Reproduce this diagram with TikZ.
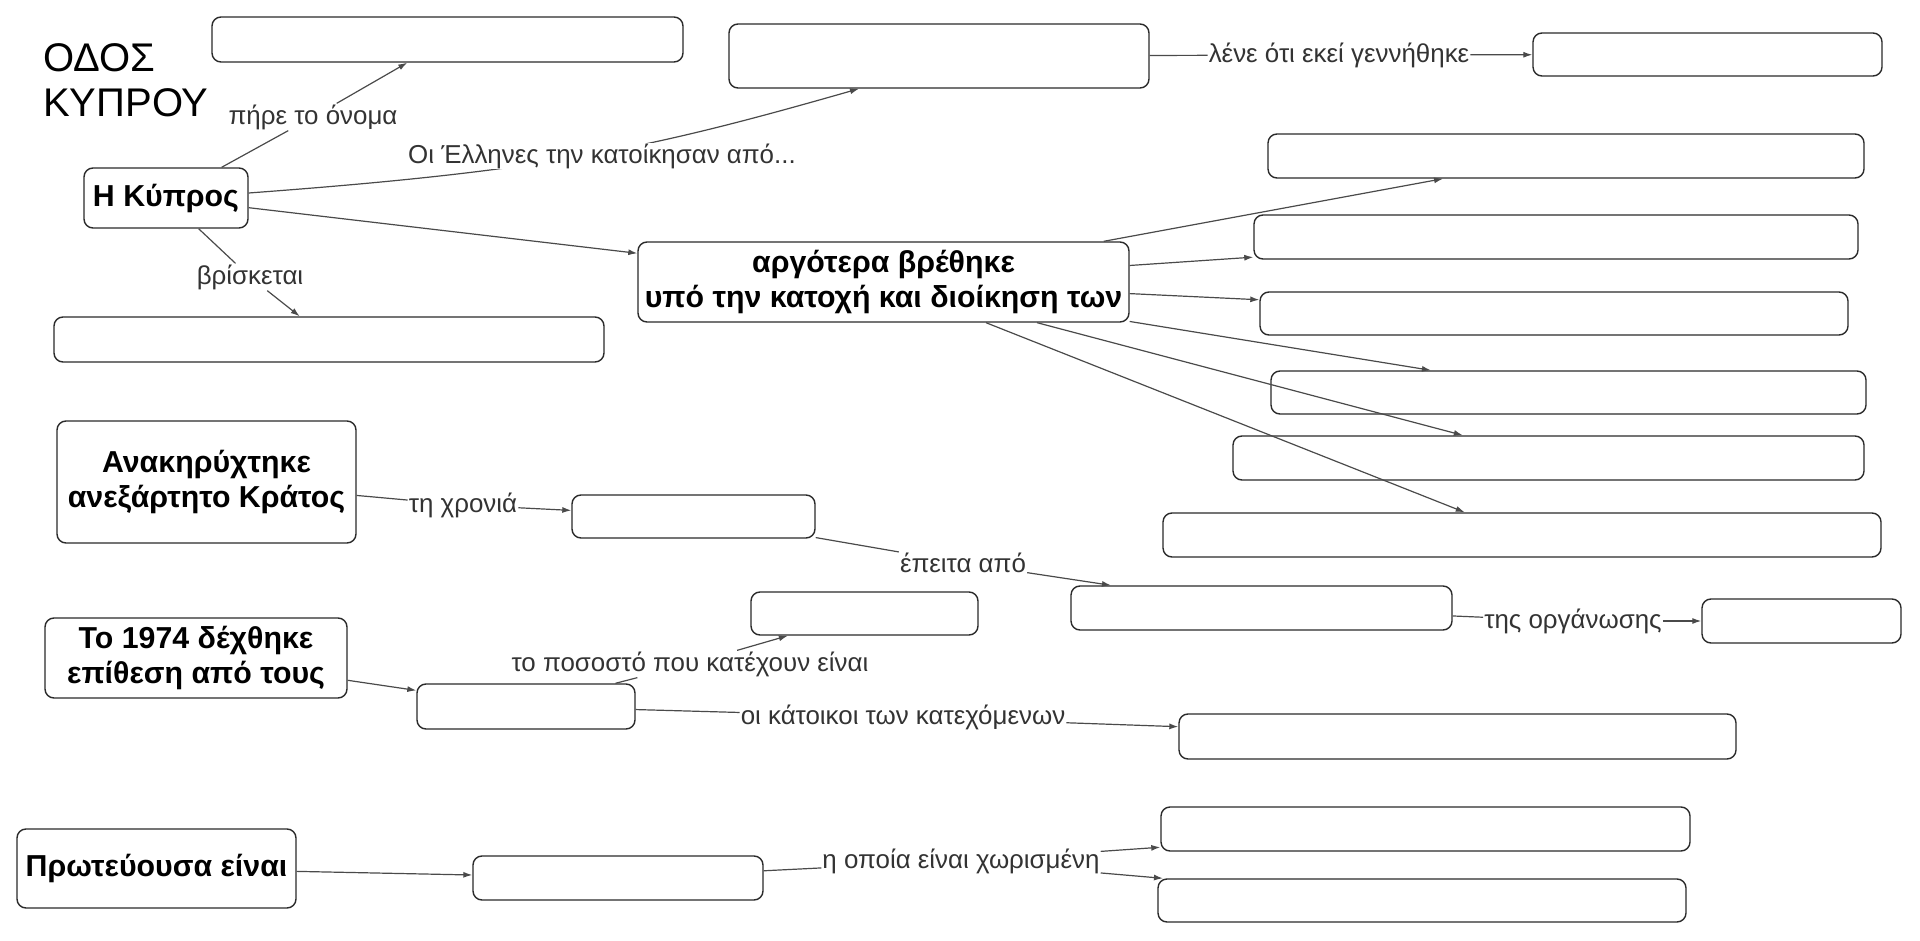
\documentclass[tikz,border=0pt]{standalone}
\usepackage{fontspec}
\setmainfont{Liberation Sans}
\usetikzlibrary{arrows.meta}
\definecolor{linec}{HTML}{4A4A4A}
\definecolor{boxc}{HTML}{2B2B2B}
\definecolor{labc}{HTML}{333333}
\begin{document}
\begin{tikzpicture}[x=1pt,y=-1pt,
  box/.style 2 args={draw=boxc, line width=1.4pt, rounded corners=9pt, fill=white,
    minimum width=#1, minimum height=#2, inner sep=0pt},
  cbox/.style 2 args={box={#1}{#2}, align=center, font=\fontsize{30.3}{35}\selectfont\bfseries},
  lab/.style={font=\fontsize{25.9}{30}\selectfont, text=labc, inner sep=1pt},
  conn/.style={draw=linec, line width=1.2pt},
  arr/.style={conn, -{Latex[length=9pt,width=6pt]}}]
\fill[white] (0,0) rectangle (1920,941);
\useasboundingbox (0,0) rectangle (1920,941);

% title
\node[anchor=north west, inner sep=0pt, align=left, font=\fontsize{40}{45}\selectfont] (title) at (43,43) {ΟΔΟΣ\\ΚΥΠΡΟΥ};

% concepts
\node[box={471}{45}] (A) at (447.5,39.5) {};
\node[cbox={164}{60}] (kypros) at (166,198) {Η Κύπρος};
\node[box={550}{45}] (B) at (329,339.5) {};
\node[box={420}{64}] (C) at (939,56) {};
\node[box={349}{43}] (D) at (1707.5,54.5) {};
\node[cbox={491}{80}] (E) at (883.5,282) {αργότερα βρέθηκε\\υπό την κατοχή και διοίκηση των};
\node[box={596}{44}] (R1) at (1566,156) {};
\node[box={604}{44}] (R2) at (1556,237) {};
\node[box={588}{43}] (R3) at (1554,313.5) {};
\node[box={595}{43}] (R4) at (1568.5,392.5) {};
\node[box={631}{44}] (R5) at (1548.5,458) {};
\node[box={718}{44}] (R6) at (1522,535) {};
\node[cbox={299}{122}] (F) at (206.5,482) {Ανακηρύχτηκε\\ανεξάρτητο Κράτος};
\node[box={243}{43}] (G) at (693.5,516.5) {};
\node[box={381}{44}] (H) at (1261.5,608) {};
\node[box={199}{44}] (I) at (1801.5,621) {};
\node[cbox={302}{80}] (J) at (196,658) {Το 1974 δέχθηκε\\επίθεση από τους};
\node[box={218}{45}] (K) at (526,706.5) {};
\node[box={227}{43}] (L) at (864.5,613.5) {};
\node[box={557}{45}] (M) at (1457.5,736.5) {};
\node[cbox={279}{79}] (N) at (156.5,868.5) {Πρωτεύουσα είναι};
\node[box={290}{44}] (O) at (618,878) {};
\node[box={529}{44}] (P1) at (1425.5,829) {};
\node[box={528}{43}] (P2) at (1422,900.5) {};

% linking phrases
\node[lab] (l1) at (313,117) {πήρε το όνομα};
\node[lab] (l3) at (1339,55) {λένε ότι εκεί γεννήθηκε};
\node[lab] (l4) at (250,277) {βρίσκεται};
\node[lab] (l5) at (463,505) {τη χρονιά};
\node[lab] (l6) at (963,563) {έπειτα από};
\node[lab] (l7) at (1573,621) {της οργάνωσης};
\node[lab] (l8) at (690,664) {το ποσοστό που κατέχουν είναι};
\node[lab] (l9) at (903,717) {οι κάτοικοι των κατεχόμενων};
\node[lab] (l10) at (961,861) {η οποία είναι χωρισμένη};

% connectors
\draw[conn] (kypros) -- (l1);
\draw[arr] (l1) -- (A);
\draw[arr] ([yshift=5pt]kypros.east) .. controls (545,171) and (645,150) .. ([xshift=-80pt]C.south);
\node[lab, fill=white] (l2) at (602,156) {Οι Έλληνες την κατοίκησαν από...};
\draw[conn] (kypros) -- (l4);
\draw[arr] (l4) -- (B);
\draw[arr] (kypros) -- (E);
\draw[conn] (C) -- (l3);
\draw[arr] (l3) -- (D);
\foreach \r in {R1,R2,R3,R4,R5,R6} \draw[arr] (E) -- (\r);
\draw[conn] (F) -- (l5);
\draw[arr] (l5) -- (G);
\draw[conn] (G) -- (l6);
\draw[arr] (l6) -- (H);
\draw[conn] (H) -- (l7);
\draw[arr] (l7) -- (I);
\draw[arr] (J) -- (K);
\draw[conn] (K) -- (l8);
\draw[arr] (l8) -- (L);
\draw[conn] (K) -- (l9);
\draw[arr] (l9) -- (M);
\draw[arr] (N) -- (O);
\draw[conn] (O) -- (l10);
\draw[arr] (l10) -- (P1);
\draw[arr] (l10) -- (P2);
\end{tikzpicture}
\end{document}
